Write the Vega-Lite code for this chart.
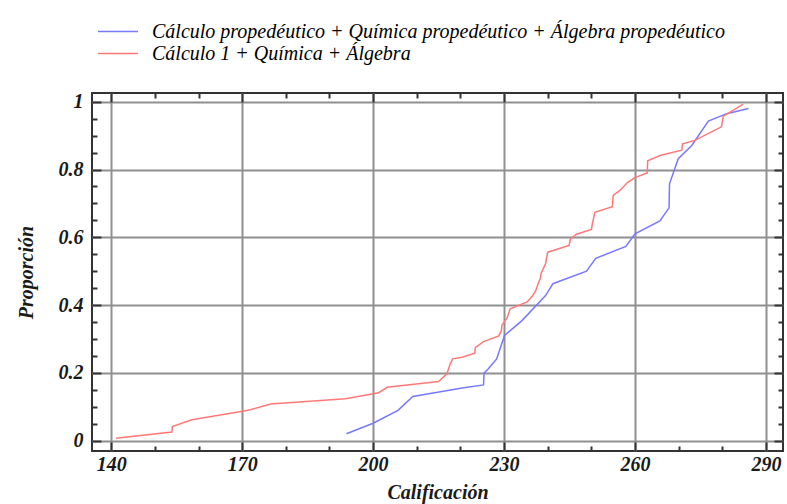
{
  "$schema": "https://vega.github.io/schema/vega-lite/v6.json",
  "width": 691,
  "height": 358,
  "autosize": {"type": "none"},
  "padding": {"left": 92, "top": 93, "right": 4, "bottom": 53},
  "background": "white",
  "config": {"view": {"stroke": "#333333", "strokeWidth": 2}, "font": "Liberation Serif"},
  "data": {"values": [
    {"serie": "Cálculo propedéutico + Química propedéutico + Álgebra propedéutico", "i": 1, "x": 193.9, "p": 0.020},
    {"serie": "Cálculo propedéutico + Química propedéutico + Álgebra propedéutico", "i": 2, "x": 200.0, "p": 0.051},
    {"serie": "Cálculo propedéutico + Química propedéutico + Álgebra propedéutico", "i": 3, "x": 205.7, "p": 0.089},
    {"serie": "Cálculo propedéutico + Química propedéutico + Álgebra propedéutico", "i": 4, "x": 209.1, "p": 0.130},
    {"serie": "Cálculo propedéutico + Química propedéutico + Álgebra propedéutico", "i": 5, "x": 220.4, "p": 0.155},
    {"serie": "Cálculo propedéutico + Química propedéutico + Álgebra propedéutico", "i": 6, "x": 225.3, "p": 0.164},
    {"serie": "Cálculo propedéutico + Química propedéutico + Álgebra propedéutico", "i": 7, "x": 225.4, "p": 0.199},
    {"serie": "Cálculo propedéutico + Química propedéutico + Álgebra propedéutico", "i": 8, "x": 226.4, "p": 0.212},
    {"serie": "Cálculo propedéutico + Química propedéutico + Álgebra propedéutico", "i": 9, "x": 228.3, "p": 0.241},
    {"serie": "Cálculo propedéutico + Química propedéutico + Álgebra propedéutico", "i": 10, "x": 230.1, "p": 0.310},
    {"serie": "Cálculo propedéutico + Química propedéutico + Álgebra propedéutico", "i": 11, "x": 234.1, "p": 0.354},
    {"serie": "Cálculo propedéutico + Química propedéutico + Álgebra propedéutico", "i": 12, "x": 239.5, "p": 0.428},
    {"serie": "Cálculo propedéutico + Química propedéutico + Álgebra propedéutico", "i": 13, "x": 241.2, "p": 0.463},
    {"serie": "Cálculo propedéutico + Química propedéutico + Álgebra propedéutico", "i": 14, "x": 243.3, "p": 0.473},
    {"serie": "Cálculo propedéutico + Química propedéutico + Álgebra propedéutico", "i": 15, "x": 248.9, "p": 0.500},
    {"serie": "Cálculo propedéutico + Química propedéutico + Álgebra propedéutico", "i": 16, "x": 251.0, "p": 0.538},
    {"serie": "Cálculo propedéutico + Química propedéutico + Álgebra propedéutico", "i": 17, "x": 257.9, "p": 0.573},
    {"serie": "Cálculo propedéutico + Química propedéutico + Álgebra propedéutico", "i": 18, "x": 260.0, "p": 0.610},
    {"serie": "Cálculo propedéutico + Química propedéutico + Álgebra propedéutico", "i": 19, "x": 265.7, "p": 0.648},
    {"serie": "Cálculo propedéutico + Química propedéutico + Álgebra propedéutico", "i": 20, "x": 267.8, "p": 0.687},
    {"serie": "Cálculo propedéutico + Química propedéutico + Álgebra propedéutico", "i": 21, "x": 267.9, "p": 0.758},
    {"serie": "Cálculo propedéutico + Química propedéutico + Álgebra propedéutico", "i": 22, "x": 269.9, "p": 0.832},
    {"serie": "Cálculo propedéutico + Química propedéutico + Álgebra propedéutico", "i": 23, "x": 273.0, "p": 0.871},
    {"serie": "Cálculo propedéutico + Química propedéutico + Álgebra propedéutico", "i": 24, "x": 276.8, "p": 0.943},
    {"serie": "Cálculo propedéutico + Química propedéutico + Álgebra propedéutico", "i": 25, "x": 281.0, "p": 0.965},
    {"serie": "Cálculo propedéutico + Química propedéutico + Álgebra propedéutico", "i": 26, "x": 286.0, "p": 0.980},
    {"serie": "Cálculo 1 + Química + Álgebra", "i": 1, "x": 141.1, "p": 0.007},
    {"serie": "Cálculo 1 + Química + Álgebra", "i": 2, "x": 153.9, "p": 0.025},
    {"serie": "Cálculo 1 + Química + Álgebra", "i": 3, "x": 154.0, "p": 0.041},
    {"serie": "Cálculo 1 + Química + Álgebra", "i": 4, "x": 158.5, "p": 0.061},
    {"serie": "Cálculo 1 + Química + Álgebra", "i": 5, "x": 170.4, "p": 0.087},
    {"serie": "Cálculo 1 + Química + Álgebra", "i": 6, "x": 171.9, "p": 0.091},
    {"serie": "Cálculo 1 + Química + Álgebra", "i": 7, "x": 176.5, "p": 0.108},
    {"serie": "Cálculo 1 + Química + Álgebra", "i": 8, "x": 193.7, "p": 0.123},
    {"serie": "Cálculo 1 + Química + Álgebra", "i": 9, "x": 201.3, "p": 0.141},
    {"serie": "Cálculo 1 + Química + Álgebra", "i": 10, "x": 203.2, "p": 0.157},
    {"serie": "Cálculo 1 + Química + Álgebra", "i": 11, "x": 215.0, "p": 0.174},
    {"serie": "Cálculo 1 + Química + Álgebra", "i": 12, "x": 216.9, "p": 0.197},
    {"serie": "Cálculo 1 + Química + Álgebra", "i": 13, "x": 217.7, "p": 0.227},
    {"serie": "Cálculo 1 + Química + Álgebra", "i": 14, "x": 218.2, "p": 0.241},
    {"serie": "Cálculo 1 + Química + Álgebra", "i": 15, "x": 220.4, "p": 0.246},
    {"serie": "Cálculo 1 + Química + Álgebra", "i": 16, "x": 223.3, "p": 0.258},
    {"serie": "Cálculo 1 + Química + Álgebra", "i": 17, "x": 223.4, "p": 0.274},
    {"serie": "Cálculo 1 + Química + Álgebra", "i": 18, "x": 225.3, "p": 0.292},
    {"serie": "Cálculo 1 + Química + Álgebra", "i": 19, "x": 228.8, "p": 0.309},
    {"serie": "Cálculo 1 + Química + Álgebra", "i": 20, "x": 229.4, "p": 0.325},
    {"serie": "Cálculo 1 + Química + Álgebra", "i": 21, "x": 229.5, "p": 0.340},
    {"serie": "Cálculo 1 + Química + Álgebra", "i": 22, "x": 230.7, "p": 0.362},
    {"serie": "Cálculo 1 + Química + Álgebra", "i": 23, "x": 231.4, "p": 0.389},
    {"serie": "Cálculo 1 + Química + Álgebra", "i": 24, "x": 235.3, "p": 0.409},
    {"serie": "Cálculo 1 + Química + Álgebra", "i": 25, "x": 236.4, "p": 0.425},
    {"serie": "Cálculo 1 + Química + Álgebra", "i": 26, "x": 237.2, "p": 0.441},
    {"serie": "Cálculo 1 + Química + Álgebra", "i": 27, "x": 237.8, "p": 0.463},
    {"serie": "Cálculo 1 + Química + Álgebra", "i": 28, "x": 238.3, "p": 0.478},
    {"serie": "Cálculo 1 + Química + Álgebra", "i": 29, "x": 238.5, "p": 0.494},
    {"serie": "Cálculo 1 + Química + Álgebra", "i": 30, "x": 239.5, "p": 0.522},
    {"serie": "Cálculo 1 + Química + Álgebra", "i": 31, "x": 240.0, "p": 0.556},
    {"serie": "Cálculo 1 + Química + Álgebra", "i": 32, "x": 244.9, "p": 0.576},
    {"serie": "Cálculo 1 + Química + Álgebra", "i": 33, "x": 245.2, "p": 0.595},
    {"serie": "Cálculo 1 + Química + Álgebra", "i": 34, "x": 246.6, "p": 0.609},
    {"serie": "Cálculo 1 + Química + Álgebra", "i": 35, "x": 250.0, "p": 0.623},
    {"serie": "Cálculo 1 + Química + Álgebra", "i": 36, "x": 250.3, "p": 0.645},
    {"serie": "Cálculo 1 + Química + Álgebra", "i": 37, "x": 250.8, "p": 0.674},
    {"serie": "Cálculo 1 + Química + Álgebra", "i": 38, "x": 254.8, "p": 0.690},
    {"serie": "Cálculo 1 + Química + Álgebra", "i": 39, "x": 255.0, "p": 0.724},
    {"serie": "Cálculo 1 + Química + Álgebra", "i": 40, "x": 256.6, "p": 0.739},
    {"serie": "Cálculo 1 + Química + Álgebra", "i": 41, "x": 258.2, "p": 0.761},
    {"serie": "Cálculo 1 + Química + Álgebra", "i": 42, "x": 260.0, "p": 0.776},
    {"serie": "Cálculo 1 + Química + Álgebra", "i": 43, "x": 262.8, "p": 0.790},
    {"serie": "Cálculo 1 + Química + Álgebra", "i": 44, "x": 262.9, "p": 0.826},
    {"serie": "Cálculo 1 + Química + Álgebra", "i": 45, "x": 265.9, "p": 0.842},
    {"serie": "Cálculo 1 + Química + Álgebra", "i": 46, "x": 270.7, "p": 0.857},
    {"serie": "Cálculo 1 + Química + Álgebra", "i": 47, "x": 270.9, "p": 0.876},
    {"serie": "Cálculo 1 + Química + Álgebra", "i": 48, "x": 273.7, "p": 0.886},
    {"serie": "Cálculo 1 + Química + Álgebra", "i": 49, "x": 279.8, "p": 0.926},
    {"serie": "Cálculo 1 + Química + Álgebra", "i": 50, "x": 280.2, "p": 0.957},
    {"serie": "Cálculo 1 + Química + Álgebra", "i": 51, "x": 284.8, "p": 0.993}
  ]},
  "layer": [
    {
      "mark": {"type": "line", "strokeWidth": 1.5, "clip": true},
      "encoding": {
        "x": {
          "field": "x", "type": "quantitative",
          "scale": {"domain": [135.6, 293.9], "nice": false, "zero": false},
          "axis": {
            "orient": "bottom",
            "title": "Calificación",
            "values": [140, 150, 160, 170, 180, 190, 200, 210, 220, 230, 240, 250, 260, 270, 280, 290],
            "labelExpr": "datum.value % 30 === 20 ? datum.label : ''",
            "labelFont": "Liberation Serif", "labelFontSize": 20, "labelFontStyle": "italic", "labelFontWeight": "bold", "labelColor": "#1a1a1a",
            "labelPadding": 12, "labelOverlap": false, "labelFlush": false, "labelBound": false,
            "tickSize": {"condition": {"test": "datum.value % 30 === 20", "value": -9}, "value": -5},
            "tickColor": "#333333", "tickWidth": 2,
            "grid": true, "gridColor": "#909090", "gridWidth": 2,
            "gridOpacity": {"condition": {"test": "datum.value % 30 === 20", "value": 1}, "value": 0},
            "domain": false,
            "titleFont": "Liberation Serif", "titleFontSize": 20, "titleFontStyle": "italic", "titleFontWeight": "bold", "titleColor": "#1a1a1a", "titlePadding": 4
          }
        },
        "y": {
          "field": "p", "type": "quantitative",
          "scale": {"domain": [-0.031, 1.026], "nice": false, "zero": false},
          "axis": {
            "orient": "left",
            "title": "Proporción",
            "values": [0, 0.05, 0.1, 0.15, 0.2, 0.25, 0.3, 0.35, 0.4, 0.45, 0.5, 0.55, 0.6, 0.65, 0.7, 0.75, 0.8, 0.85, 0.9, 0.95, 1],
            "labelExpr": "round(datum.value * 100) % 20 === 0 ? format(datum.value, '~g') : ''",
            "labelFont": "Liberation Serif", "labelFontSize": 20, "labelFontStyle": "italic", "labelFontWeight": "bold", "labelColor": "#1a1a1a",
            "labelPadding": 18, "labelOverlap": false, "labelFlush": false, "labelBound": false,
            "tickSize": {"condition": {"test": "round(datum.value * 100) % 20 === 0", "value": -9}, "value": -5},
            "tickColor": "#333333", "tickWidth": 2,
            "grid": true, "gridColor": "#909090", "gridWidth": 2,
            "gridOpacity": {"condition": {"test": "round(datum.value * 100) % 20 === 0", "value": 1}, "value": 0},
            "domain": false,
            "titleFont": "Liberation Serif", "titleFontSize": 20, "titleFontStyle": "italic", "titleFontWeight": "bold", "titleColor": "#1a1a1a", "titlePadding": 22
          }
        },
        "color": {
          "field": "serie", "type": "nominal",
          "scale": {
            "domain": ["Cálculo propedéutico + Química propedéutico + Álgebra propedéutico", "Cálculo 1 + Química + Álgebra"],
            "range": ["#7878ff", "#ff7878"]
          },
          "legend": {
            "title": null, "orient": "none", "legendX": 5, "legendY": -72,
            "symbolType": "stroke", "symbolSize": 1600, "symbolStrokeWidth": 1.5,
            "labelFont": "Liberation Serif", "labelFontSize": 20, "labelFontStyle": "italic", "labelColor": "#000000",
            "labelOffset": 13, "rowPadding": 1, "clipHeight": 21, "labelLimit": 900, "padding": 0
          }
        },
        "order": {"field": "i", "type": "quantitative"}
      }
    },
    {
      "mark": {"type": "line", "opacity": 0},
      "encoding": {
        "x": {
          "field": "x", "type": "quantitative",
          "axis": {
            "orient": "top", "title": null,
            "values": [140, 150, 160, 170, 180, 190, 200, 210, 220, 230, 240, 250, 260, 270, 280, 290],
            "labels": false, "grid": false, "domain": false,
            "tickSize": {"condition": {"test": "datum.value % 30 === 20", "value": -9}, "value": -5},
            "tickColor": "#333333", "tickWidth": 2
          }
        },
        "y": {
          "field": "p", "type": "quantitative",
          "axis": {
            "orient": "right", "title": null,
            "values": [0, 0.05, 0.1, 0.15, 0.2, 0.25, 0.3, 0.35, 0.4, 0.45, 0.5, 0.55, 0.6, 0.65, 0.7, 0.75, 0.8, 0.85, 0.9, 0.95, 1],
            "labels": false, "grid": false, "domain": false,
            "tickSize": {"condition": {"test": "round(datum.value * 100) % 20 === 0", "value": -9}, "value": -5},
            "tickColor": "#333333", "tickWidth": 2
          }
        },
        "detail": {"field": "serie", "type": "nominal"},
        "order": {"field": "i", "type": "quantitative"}
      }
    }
  ],
  "resolve": {"axis": {"x": "independent", "y": "independent"}}
}
